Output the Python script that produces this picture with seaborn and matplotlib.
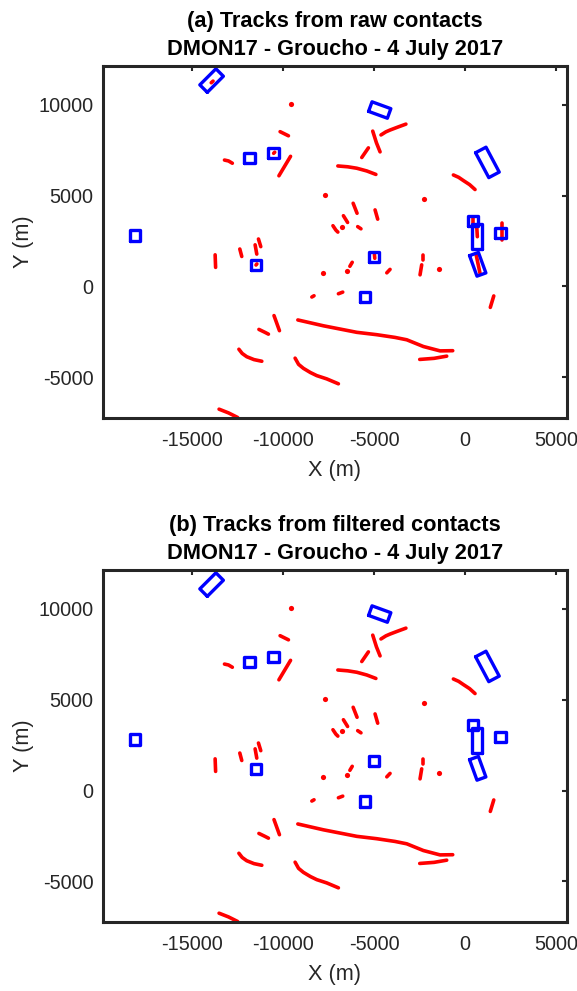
import numpy as np
import pandas as pd
import matplotlib
matplotlib.use("Agg")
import matplotlib.pyplot as plt
import seaborn as sns

# ---------------------------------------------------------------- data
# Track segments (metres), shared by the raw and filtered results
tracks = {
    "t01": [(-10165, 8510), (-9706, 8283)],
    "t02": [(-13223, 6950), (-13000, 6900), (-12790, 6775)],
    "t03": [(-9590, 7155), (-10230, 6085)],
    "t04": [(-4620, 8330), (-4350, 8500), (-4121, 8600), (-3700, 8760), (-3250, 8925)],
    "t05": [(-5073, 8540), (-4870, 7900), (-4670, 7400)],
    "t06": [(-5676, 7090), (-5311, 7620)],
    "t07": [(-6990, 6625), (-6450, 6580), (-5950, 6500), (-5400, 6350), (-4900, 6160)],
    "t08": [(-640, 6130), (-350, 6000), (-92, 5824), (250, 5600), (550, 5330)],
    "t09": [(-6150, 4575), (-5935, 4025)],
    "t10": [(-6685, 3890), (-6455, 3520)],
    "t11": [(-7260, 3340), (-7100, 3100), (-6990, 2990)],
    "t12": [(-5900, 3290), (-5720, 3170)],
    "t13": [(-4945, 4210), (-4800, 3700)],
    "t14": [(-13736, 1740), (-13710, 1050)],
    "t15": [(-12380, 2060), (-12272, 1650)],
    "t16": [(-11538, 2290), (-11447, 1780)],
    "t17": [(-11355, 2610), (-11227, 2190)],
    "t18": [(-6330, 1110), (-6200, 1330)],
    "t19": [(-4300, 750), (-4121, 940)],
    "t20": [(-2290, 1742), (-2290, 1467)],
    "t21": [(-2382, 1190), (-2473, 640)],
    "t22": [(-8420, -580), (-8300, -510)],
    "t23": [(-6960, -400), (-6722, -310)],
    "t24": [(1580, -520), (1390, -1150)],
    "t25": [(-10500, -1600), (-10200, -2430)],
    "t26": [(-11330, -2360), (-11000, -2520), (-10806, -2620)],
    "t27": [(-12430, -3450), (-12250, -3680), (-12000, -3860), (-11600, -4020),
            (-11170, -4110)],
    "t28": [(-9190, -1840), (-7784, -2161), (-5950, -2520), (-4852, -2650),
            (-3850, -2800), (-3203, -2930), (-2290, -3300), (-1374, -3540),
            (-676, -3530)],
    "t29": [(-2490, -4010), (-1700, -3950), (-1007, -3830)],
    "t30": [(-9340, -3940), (-9150, -4280), (-8883, -4500), (-8500, -4730),
            (-8150, -4900), (-7601, -5080), (-6960, -5350)],
    "t31": [(-13520, -6745), (-13000, -6950), (-12500, -7200)],
}
# Isolated single-contact detections
dots_x = [-9540, -7700, -2270, -6750, -7800, -6500, -1410]
dots_y = [10030, 5020, 4820, 3250, 720, 860, 970]

# Tracks on stationary objects, removed by the contact filter
stationary = {
    "s01": [(-13950, 11200), (-13850, 11290)],
    "s02": [(-10520, 7320), (-10460, 7380)],
    "s03": [(-11490, 1180), (-11440, 1240)],
    "s04": [(-4980, 1750), (-4960, 1550)],
    "s05": [(2016, 3472), (2016, 2555)],
    "s06": [(456, 3837), (456, 3286)],
    "s07": [(640, 3379), (677, 2736)],
    "s08": [(600, 1800), (824, 725)],
}

# Known object boxes: centre x, centre y, length, width, angle (deg)
box_cx = [-13930, -4690, 1230, -11850, -10530, -18150, -11500, -5020,
          -5510, 440, 1950, 676, 697]
box_cy = [11320, 9700, 6820, 7070, 7350, 2800, 1170, 1600,
          -600, 3620, 2960, 2736, 1220]
box_len = [1250, 1100, 1550, 560, 560, 560, 560, 560,
           560, 560, 560, 1400, 1200]
box_wid = [580, 560, 650, 560, 560, 560, 560, 560,
           560, 560, 560, 560, 520]
box_ang = [45, -20, -62, 0, 0, 0, 0, 0,
           0, 0, 0, 90, -70]

panel_titles = ["(a) Tracks from raw contacts\nDMON17 - Groucho - 4 July 2017",
                "(b) Tracks from filtered contacts\nDMON17 - Groucho - 4 July 2017"]
x_ticks = [-15000, -10000, -5000, 0, 5000]
y_ticks = [-5000, 0, 5000, 10000]
x_lim = (-19900, 5600)
y_lim = (-7230, 12120)


def tracks_frame(track_dict):
    rows = []
    for name, pts in track_dict.items():
        for i, (x, y) in enumerate(pts):
            rows.append({"track": name, "order": i, "x": x, "y": y})
    return pd.DataFrame(rows)


def boxes_frame():
    rows = []
    for k in range(len(box_cx)):
        a = np.deg2rad(box_ang[k])
        u = np.array([np.cos(a), np.sin(a)]) * box_len[k] / 2
        v = np.array([-np.sin(a), np.cos(a)]) * box_wid[k] / 2
        c = np.array([box_cx[k], box_cy[k]])
        corners = [c - u - v, c + u - v, c + u + v, c - u + v, c - u - v]
        for i, p in enumerate(corners):
            rows.append({"box": k, "order": i, "x": p[0], "y": p[1]})
    return pd.DataFrame(rows)


sns.set_style("white")
plt.rcParams["font.family"] = ["Liberation Sans", "DejaVu Sans"]
plt.rcParams["axes.edgecolor"] = "#262626"
plt.rcParams["axes.linewidth"] = 2.2

fig = plt.figure(figsize=(5.77, 9.91), dpi=100)
positions = [[0.1785, 0.5782, 0.804, 0.3552],
             [0.1785, 0.0696, 0.804, 0.3552]]

df_boxes = boxes_frame()
df_shared = tracks_frame(tracks)
df_raw = pd.concat([df_shared, tracks_frame(stationary)], ignore_index=True)

for p, title in enumerate(panel_titles):
    ax = fig.add_axes(positions[p])
    df_t = df_raw if p == 0 else df_shared
    sns.lineplot(data=df_t, x="x", y="y", units="track", estimator=None,
                 sort=False, color="#ff0000", linewidth=2.6, ax=ax,
                 legend=False, solid_capstyle="round", solid_joinstyle="round")
    sns.scatterplot(x=dots_x, y=dots_y, color="#ff0000", s=14,
                    linewidth=0, ax=ax, legend=False)
    sns.lineplot(data=df_boxes, x="x", y="y", units="box", estimator=None,
                 sort=False, color="#0000ff", linewidth=2.4, ax=ax,
                 legend=False)
    ax.set_xlim(*x_lim)
    ax.set_ylim(*y_lim)
    ax.set_xticks(x_ticks)
    ax.set_yticks(y_ticks)
    ax.set_xticklabels([str(t) for t in x_ticks])
    ax.set_yticklabels([str(t) for t in y_ticks])
    ax.tick_params(axis="x", pad=9.5)
    ax.tick_params(axis="y", pad=7)
    ax.tick_params(direction="in", length=3.5, width=1.5, top=True,
                   right=True, labelsize=14.3, labelcolor="#262626",
                   color="#262626")
    ax.set_xlabel("X (m)", fontsize=15.7, color="#262626", labelpad=7)
    ax.set_ylabel("Y (m)", fontsize=15.7, color="#262626", labelpad=3)
    ax.set_title(title, fontsize=15.7, fontweight="bold", linespacing=1.45,
                 pad=8, color="black")
    for s in ax.spines.values():
        s.set_visible(True)

fig.savefig("out.png", dpi=100, facecolor="white")
